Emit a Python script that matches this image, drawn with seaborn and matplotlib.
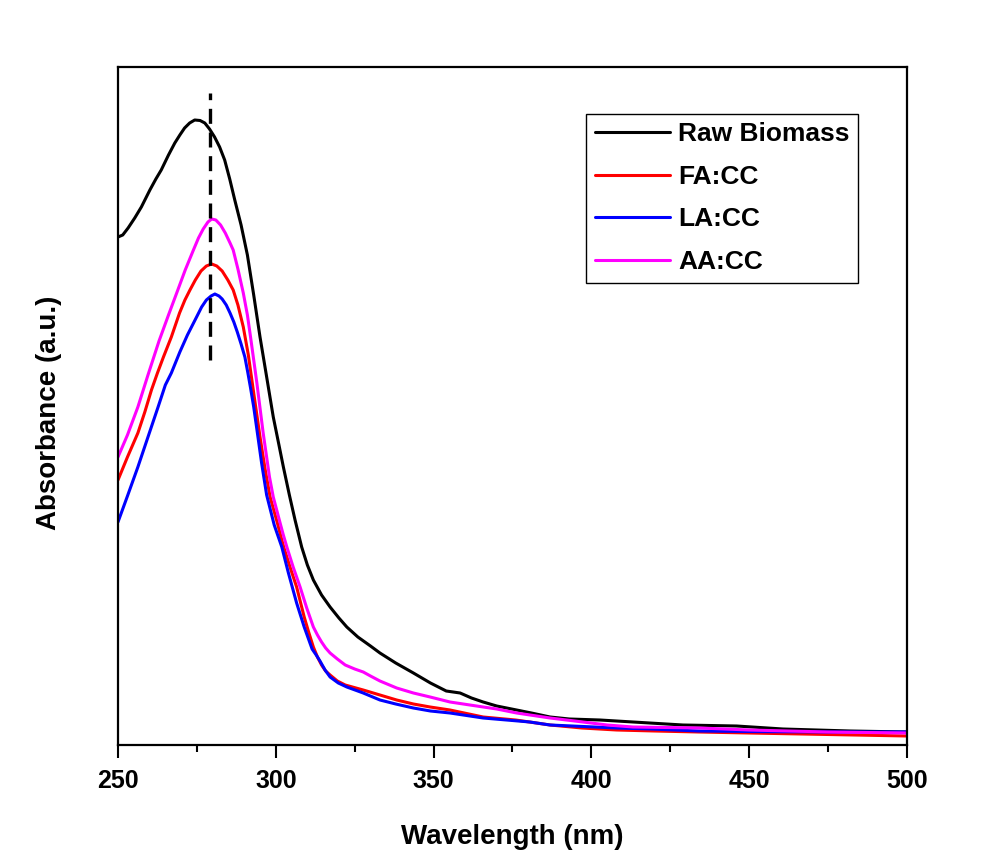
import numpy as np
import pandas as pd
import matplotlib
matplotlib.use("Agg")
import matplotlib.pyplot as plt
import seaborn as sns

# ---------------- data ----------------
series_names = ["Raw Biomass", "FA:CC", "LA:CC", "AA:CC"]
series_colors = ["#000000", "#ff0000", "#0000ff", "#ff00ff"]

raw_wl = [250, 251.5, 253.2, 255.3, 257.4, 260.1, 262, 263.7, 266, 268, 269.6,
          271.1, 272.7, 274.3, 276, 277.5, 279, 280.6, 282.2, 283.8, 285.4,
          287, 289, 291, 293, 295, 297, 299.2, 301, 302.4, 304.3, 306.1, 308.2,
          310, 311.9, 314.5, 317.2, 320, 322.5, 326, 330, 333, 338, 343.6, 349,
          354, 358.4, 362, 365.7, 370, 376.3, 381, 386.9, 393, 402.7, 413.2, 429,
          446, 460.7, 482, 500]
raw_abs = [508, 510, 517, 527, 538, 555, 566, 575, 590, 602, 610,
           617, 622, 625, 624.5, 622, 616, 608, 598, 585, 566,
           545, 520, 490, 450, 408, 370, 328, 300, 278, 250, 225, 198,
           180, 165, 150, 138, 127, 118, 108, 99, 92, 82, 72, 62,
           54, 52, 47, 43, 39, 35, 32, 28, 26, 25, 23, 20,
           19, 16, 14, 13]

fa_wl = [250, 253, 256.3, 258.5, 260.6, 262.5, 264.4, 266.9, 269.5, 271.2, 272.8,
         274.5, 276.3, 278, 279.7, 281.3, 283, 284.8, 286.5, 288, 289.7, 291.3,
         293, 295, 296.6, 298.2, 300.5, 302.5, 304.5, 306.6, 309, 310.5, 311.9,
         313.2, 314.5, 315.8, 317.2, 319.5, 322, 327.7, 333, 338.3, 343.6, 348.9,
         355.2, 365.7, 376, 386.9, 397, 408, 420, 434, 450, 475, 500]
fa_abs = [265, 288, 312, 333, 355, 372, 388, 408, 432, 445, 455,
          465, 474, 479, 481, 479, 474, 465, 455, 440, 418, 390,
          352, 308, 276, 248, 222, 198, 178, 158, 128, 112, 98,
          88, 80, 74, 70, 64, 60, 55, 50, 45, 41, 38,
          35, 28, 25, 20, 17, 15, 14, 13, 12, 10.5, 9]

la_wl = [250, 253, 256.3, 259.5, 262.7, 265, 266.9, 269.6, 272, 274.9, 276.5,
         278, 279.5, 280.7, 282, 283, 284.3, 285.5, 286.7, 287.8, 289, 290.2,
         291.1, 292, 293, 293.9, 295.5, 297.1, 299.5, 301.9, 304, 306.6, 309,
         311.5, 312.8, 314, 315.6, 317.2, 319.8, 322.5, 327.7, 333, 338, 343.6,
         349, 355.2, 365.7, 380.5, 386.9, 408, 418.6, 434, 450, 475, 500]
la_abs = [223, 249, 278, 308, 338, 360, 372, 393, 410, 428, 438,
          445, 449, 451, 449, 446, 440, 432, 423, 413, 401, 388,
          373, 357, 338, 318, 282, 250, 220, 198, 172, 142, 118,
          96, 90, 84, 75, 68, 62, 58, 52, 45, 41, 37,
          34, 32, 27, 23, 20, 17, 16, 14, 13.5, 13, 13]

aa_wl = [250, 253, 256.3, 259.5, 263, 266, 268.6, 271.3, 273.9, 275.5, 277,
         278.5, 279.7, 281, 282.5, 284, 285.5, 286.5, 288, 289.7, 291, 292,
         294, 296, 298, 299.2, 300.2, 301.2, 302.3, 303.5, 305.5, 307.7, 309.8,
         311.9, 313.2, 314.5, 315.8, 317.2, 319.5, 322, 325, 327.7, 330, 333,
         338.3, 343.6, 348.9, 355.2, 361.5, 370, 376.3, 386.9, 397.3, 405, 413.2,
         434.4, 450, 475, 500]
aa_abs = [288, 310, 338, 370, 404, 430, 452, 475, 495, 507, 516,
          523, 526, 525, 520, 512, 502, 495, 476, 452, 430, 408,
          362, 312, 268, 248, 236, 224, 211, 198, 178, 158, 137,
          118, 110, 103, 97, 92, 86, 80, 76, 73, 69, 64,
          57, 52, 48, 43, 40, 36, 32, 27, 23, 20, 18,
          17, 15, 13, 12]

peak_wl = 279.3
peak_line_y = [385, 652]

xticks = [250, 300, 350, 400, 450, 500]

# ---------------- build long table ----------------
frames = []
for name, wl, ab in zip(series_names,
                        [raw_wl, fa_wl, la_wl, aa_wl],
                        [raw_abs, fa_abs, la_abs, aa_abs]):
    frames.append(pd.DataFrame({"Wavelength": wl, "Absorbance": ab, "Sample": name}))
df = pd.concat(frames, ignore_index=True)

# ---------------- style ----------------
sns.set_theme(style="white")
plt.rcParams["font.family"] = ["Liberation Sans", "DejaVu Sans"]
plt.rcParams["font.weight"] = "bold"
plt.rcParams["text.color"] = "black"
plt.rcParams["axes.labelcolor"] = "black"
plt.rcParams["xtick.color"] = "black"
plt.rcParams["ytick.color"] = "black"

fig = plt.figure(figsize=(9.87, 8.5), dpi=100)
ax = fig.add_axes([118 / 987, 1 - 745 / 850, 789 / 987, 678 / 850])

sns.lineplot(data=df, x="Wavelength", y="Absorbance", hue="Sample",
             hue_order=series_names, palette=dict(zip(series_names, series_colors)),
             estimator=None, sort=False, linewidth=2.2, ax=ax)

ax.plot([peak_wl, peak_wl], peak_line_y, color="black", linewidth=2.4,
        dashes=(4.5, 2.6), zorder=5)

ax.set_xlim(250, 500)
ax.set_ylim(0, 678)
ax.set_xticks(xticks)
ax.set_xticks(np.arange(275, 500, 50), minor=True)
ax.set_xticklabels([str(t) for t in xticks], fontsize=18, fontweight="bold",
                   color="black")
ax.set_yticks([])

ax.tick_params(axis="x", which="major", direction="out", length=9, width=1.5,
               pad=8, bottom=True, top=False, color="black")
ax.tick_params(axis="x", which="minor", direction="out", length=5, width=1.5,
               bottom=True, top=False, color="black")

for sp in ax.spines.values():
    sp.set_visible(True)
    sp.set_color("black")
    sp.set_linewidth(1.6)

ax.set_xlabel("Wavelength (nm)", fontsize=20, fontweight="bold", color="black")
ax.set_ylabel("Absorbance (a.u.)", fontsize=20, fontweight="bold", color="black")
ax.xaxis.set_label_coords(0.5, -0.117)
ax.xaxis.label.set_verticalalignment("top")
ax.yaxis.set_label_coords(-0.071, 0.49)

handles, labels = ax.get_legend_handles_labels()
leg = ax.legend(handles=handles[:4], labels=labels[:4], loc="upper right",
                bbox_to_anchor=(0.938, 0.931), borderaxespad=0,
                frameon=True, fancybox=False, framealpha=1, edgecolor="black",
                prop={"size": 19, "weight": "bold"}, handlelength=2.85,
                handletextpad=0.3, labelspacing=0.7, borderpad=0.33)
leg.get_frame().set_linewidth(1.0)
for t in leg.get_texts():
    t.set_color("black")
for h in leg.get_lines():
    h.set_linewidth(2.2)

fig.savefig("out.png", dpi=100)
